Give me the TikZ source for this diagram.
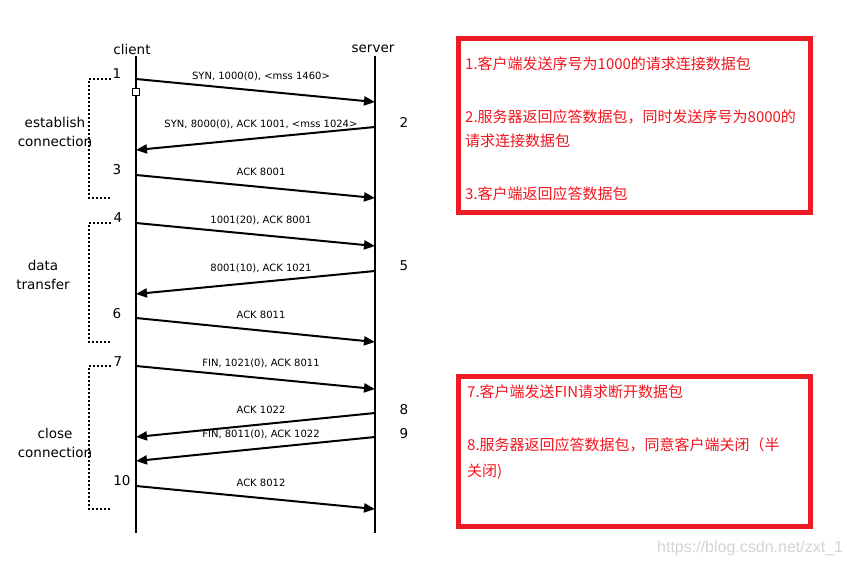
\documentclass[tikz,border=0pt]{standalone}
\usepackage{fontspec}
\setmainfont{DejaVu Sans}
\newfontfamily\cjk{Noto Sans CJK SC}
\newfontfamily\wmfont{Liberation Sans}
\usetikzlibrary{arrows.meta}
\definecolor{notered}{HTML}{ED1C24}
\definecolor{notetext}{HTML}{F0141E}
\definecolor{wmgray}{HTML}{D4D4D4}

\begin{document}
\begin{tikzpicture}[x=1pt, y=-1pt,
  lifeline/.style={line width=2.5pt},
  msg/.style={line width=2pt, -{Triangle[length=11pt,width=9pt]}},
  msglabel/.style={font=\fontsize{10}{12}\selectfont, inner sep=0pt},
  stepnum/.style={font=\fontsize{13.5}{16}\selectfont, inner sep=0pt},
  phase/.style={dotted, line width=2pt},
  phaselabel/.style={align=center, font=\fontsize{13.5}{19.5}\selectfont, inner sep=0pt},
  notebox/.style={draw=notered, line width=5pt},
  notetxt/.style={anchor=west, inner sep=0pt, text=notetext, font=\cjk\fontsize{15}{18}\selectfont}]
\useasboundingbox (0,0) rectangle (847,567);

% lifelines
\node[stepnum] (client) at (132,49) {client};
\node[stepnum] (server) at (373,49) {server};
\coordinate (ctop) at (136,56); \coordinate (cbot) at (136,533);
\coordinate (stop) at (375,56); \coordinate (sbot) at (375,533);
\draw[lifeline] (ctop) -- (cbot);
\draw[lifeline] (stop) -- (sbot);
\node[draw, fill=white, line width=1pt, minimum size=7pt, inner sep=0pt] (mark) at (136,92) {};

% client -> server
\foreach \n/\ya/\yb/\lab in {1/79/102/{SYN, 1000(0), <mss 1460>}, 3/175/198/{ACK 8001},
    4/223/246/{1001(20), ACK 8001}, 6/318/342/{ACK 8011},
    7/366/389/{FIN, 1021(0), ACK 8011}, 10/486/509/{ACK 8012}} {
  \coordinate (c\n) at (136,\ya);
  \coordinate (s\n) at (375,\yb);
  \draw[msg] (c\n) -- (s\n);
  \node[msglabel] (m\n) at (261,\ya-3) {\lab};
}
% server -> client
\foreach \n/\ya/\yb/\lab in {2/127/150/{SYN, 8000(0), ACK 1001, <mss 1024>}, 5/271/294/{8001(10), ACK 1021},
    8/413/437/{ACK 1022}, 9/437/461/{FIN, 8011(0), ACK 1022}} {
  \coordinate (s\n) at (375,\ya);
  \coordinate (c\n) at (136,\yb);
  \draw[msg] (s\n) -- (c\n);
  \node[msglabel] (m\n) at (261,\ya-3) {\lab};
}

% step numbers
\foreach \n/\x/\y in {1/117/74, 2/404/122, 3/117/170, 4/118/218, 5/404/266,
    6/117/314, 7/118/362, 8/404/410, 9/404/434, 10/122/481}
  \node[stepnum] (n\n) at (\x,\y) {\n};

% phases
\foreach \ya/\yb in {79/198, 223/342, 366/509}
  \draw[phase] (111,\ya) -- (89,\ya) -- (89,\yb) -- (111,\yb);
\node[phaselabel] (p1) at (55,132) {establish\\connection};
\node[phaselabel] (p2) at (43,275) {data\\transfer};
\node[phaselabel] (p3) at (55,443) {close\\connection};

% notes
\draw[notebox] (458.5,38.5) rectangle (810,213);
\node[notetxt] (t1) at (465,64) {1.客户端发送序号为1000的请求连接数据包};
\node[notetxt] (t2) at (465,117) {2.服务器返回应答数据包，同时发送序号为8000的};
\node[notetxt] (t3) at (465,141) {请求连接数据包};
\node[notetxt] (t4) at (465,194) {3.客户端返回应答数据包};
\draw[notebox] (458.5,376) rectangle (810,526.5);
\node[notetxt] (t7) at (467,392) {7.客户端发送FIN请求断开数据包};
\node[notetxt] (t8) at (467,445) {8.服务器返回应答数据包，同意客户端关闭（半};
\node[notetxt] (t9) at (467,472) {关闭)};

\node[anchor=west, inner sep=0pt, text=wmgray, font=\wmfont\fontsize{16}{19}\selectfont] (wm) at (657,548) {https://blog.csdn.net/zxt\_1};
\end{tikzpicture}
\end{document}
